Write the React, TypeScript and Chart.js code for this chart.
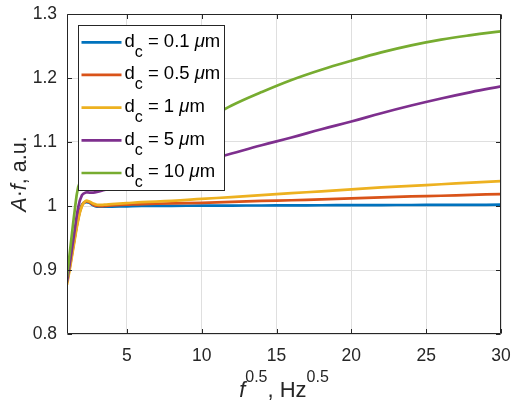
import { useEffect, useRef } from "react";
import { Chart, registerables } from "chart.js";

Chart.register(...registerables);

// sqrt(f), Hz^0.5
const fSqrt = [1, 1.25, 1.5, 1.75, 2, 2.25, 2.5, 2.75, 3, 3.5, 4, 5, 6, 8, 10, 12, 14, 16, 18, 20, 22, 24, 26, 28, 30];

// A·f, a.u. for each particle size
const dc01 = [0.882, 0.916, 0.95, 0.982, 1.002, 1.006, 1.005, 1.001, 0.999, 0.999, 0.999, 0.9995, 1.0, 1.0003, 1.0005, 1.0007, 1.0008, 1.001, 1.0012, 1.0013, 1.0015, 1.0016, 1.0017, 1.0018, 1.002];
const dc05 = [0.88, 0.913, 0.948, 0.98, 1.001, 1.007, 1.006, 1.002, 1.0, 1.0, 1.001, 1.002, 1.003, 1.004, 1.005, 1.0065, 1.008, 1.009, 1.0105, 1.012, 1.0135, 1.015, 1.016, 1.0175, 1.0185];
const dc1 = [0.877, 0.91, 0.945, 0.978, 1.0, 1.008, 1.007, 1.004, 1.002, 1.002, 1.003, 1.0045, 1.006, 1.008, 1.011, 1.014, 1.017, 1.02, 1.023, 1.026, 1.029, 1.0315, 1.034, 1.0365, 1.039];
const dc5 = [0.882, 0.92, 0.96, 0.998, 1.017, 1.021, 1.021, 1.021, 1.022, 1.025, 1.028, 1.035, 1.042, 1.056, 1.069, 1.082, 1.095, 1.107, 1.12, 1.132, 1.145, 1.157, 1.168, 1.178, 1.187];
const dc10 = [0.889, 0.94, 0.99, 1.03, 1.042, 1.046, 1.048, 1.05, 1.052, 1.057, 1.062, 1.073, 1.084, 1.107, 1.131, 1.157, 1.178, 1.197, 1.213, 1.227, 1.24, 1.251, 1.26, 1.267, 1.273];

const seriesValues = [dc01, dc05, dc1, dc5, dc10];
const seriesLabels = ["0.1", "0.5", "1", "5", "10"];
const seriesColors = ["#0072BD", "#D95319", "#EDB120", "#7E2F8E", "#77AC30"];

const xTicks = [5, 10, 15, 20, 25, 30];
const yTicks = [0.8, 0.9, 1, 1.1, 1.2, 1.3];
const yTickLabels = ["0.8", "0.9", "1", "1.1", "1.2", "1.3"];

const FONT = '"Liberation Sans", Arial, Helvetica, sans-serif';
const AXIS = "#262626";

const decor = {
  id: "decor",
  afterDraw(chart: any) {
    const ctx: CanvasRenderingContext2D = chart.ctx;
    const { left, right, top, bottom } = chart.chartArea;
    const xs = chart.scales.x;
    const ys = chart.scales.y;
    ctx.save();
    // box
    const L = Math.round(left) + 0.5, R = Math.round(right) - 0.5;
    const T = Math.round(top) + 0.5, B = Math.round(bottom) - 0.5;
    ctx.strokeStyle = AXIS;
    ctx.lineWidth = 1;
    ctx.beginPath();
    ctx.rect(L, T, R - L, B - T);
    ctx.stroke();
    // inner ticks
    const tl = 4.5;
    ctx.beginPath();
    for (const v of xTicks) {
      const px = Math.round(xs.getPixelForValue(v)) + 0.5;
      ctx.moveTo(px, B); ctx.lineTo(px, B - tl);
      ctx.moveTo(px, T); ctx.lineTo(px, T + tl);
    }
    for (const v of yTicks) {
      const py = Math.round(ys.getPixelForValue(v)) + 0.5;
      ctx.moveTo(L, py); ctx.lineTo(L + tl, py);
      ctx.moveTo(R, py); ctx.lineTo(R - tl, py);
    }
    ctx.stroke();

    // legend
    const lx = 78.5, ly = 25.5, lw = 146, lh = 165;
    ctx.fillStyle = "#ffffff";
    ctx.fillRect(lx, ly, lw, lh);
    ctx.strokeStyle = AXIS;
    ctx.lineWidth = 1;
    ctx.strokeRect(lx, ly, lw, lh);
    const main = `18.5px ${FONT}`;
    const sub = `16px ${FONT}`;
    const ital = `italic 18.5px ${FONT}`;
    ctx.textBaseline = "alphabetic";
    ctx.textAlign = "left";
    for (let i = 0; i < seriesLabels.length; i++) {
      const cy = 42.3 + i * 32.67;
      ctx.strokeStyle = seriesColors[i];
      ctx.lineWidth = 2.7;
      ctx.beginPath();
      ctx.moveTo(81.5, cy);
      ctx.lineTo(121.5, cy);
      ctx.stroke();
      const base = cy + 4.4;
      ctx.fillStyle = "#000000";
      let x = 124.5;
      ctx.font = main;
      ctx.fillText("d", x, base);
      x += ctx.measureText("d").width;
      ctx.font = sub;
      ctx.fillText("c", x, base + 10);
      x += ctx.measureText("c").width;
      ctx.font = main;
      const t = " = " + seriesLabels[i] + " ";
      ctx.fillText(t, x, base);
      x += ctx.measureText(t).width;
      ctx.font = ital;
      ctx.fillText("\u03bc", x, base);
      x += ctx.measureText("\u03bc").width;
      ctx.font = main;
      ctx.fillText("m", x, base);
    }

    // x title: f^0.5, Hz^0.5
    ctx.fillStyle = AXIS;
    const tMain = `22px ${FONT}`;
    const tItal = `italic 22px ${FONT}`;
    const tSup = `16px ${FONT}`;
    const parts: [string, string, number][] = [
      ["f", tItal, 0],
      ["0.5", tSup, -15],
      [", Hz", tMain, 0],
      ["0.5", tSup, -15],
    ];
    let total = 0;
    for (const [s, f] of parts) { ctx.font = f; total += ctx.measureText(s).width; }
    let x0 = (left + right) / 2 - total / 2;
    const xb = 396.5;
    for (const [s, f, dy] of parts) {
      ctx.font = f;
      ctx.fillText(s, x0, xb + dy);
      x0 += ctx.measureText(s).width;
    }

    // y title: A·f, a.u.
    const yMain = `21.5px ${FONT}`;
    const yItal = `italic 21.5px ${FONT}`;
    const yparts: [string, string][] = [
      ["A", yItal],
      ["\u00b7", yMain],
      ["f", yItal],
      [", a.u.", yMain],
    ];
    let ytot = 0;
    for (const [s, f] of yparts) { ctx.font = f; ytot += ctx.measureText(s).width; }
    ctx.translate(25.5, 174);
    ctx.rotate(-Math.PI / 2);
    let y0 = -ytot / 2;
    for (const [s, f] of yparts) {
      ctx.font = f;
      ctx.fillText(s, y0, 0);
      y0 += ctx.measureText(s).width;
    }
    ctx.restore();
  },
};

export default function App() {
  const ref = useRef<HTMLCanvasElement | null>(null);
  useEffect(() => {
    if (!ref.current) return;
    const datasets = seriesValues
      .map((vals, i) => ({
        label: `d_c = ${seriesLabels[i]} μm`,
        data: fSqrt.map((x, j) => ({ x, y: vals[j] })),
        borderColor: seriesColors[i],
        backgroundColor: seriesColors[i],
        borderWidth: 2.7,
        pointRadius: 0,
        fill: false,
        tension: 0.4,
      }))
      .reverse();
    const chart = new Chart(ref.current, {
      type: "line",
      data: { datasets },
      options: {
        animation: false,
        responsive: false,
        devicePixelRatio: 1,
        layout: { padding: { top: 14, right: 17, left: 0, bottom: 0 } },
        plugins: { legend: { display: false }, tooltip: { enabled: false } },
        scales: {
          x: {
            type: "linear",
            min: 1,
            max: 30,
            afterBuildTicks: (s: any) => { s.ticks = xTicks.map((v) => ({ value: v })); },
            afterFit: (s: any) => {
              s.height = 71;
              s.paddingLeft = 0; s.paddingRight = 0; s.paddingTop = 0; s.paddingBottom = 0;
            },
            grid: { color: "#dfdfdf", lineWidth: 1, drawTicks: false },
            border: { display: false },
            ticks: { color: AXIS, font: { family: FONT, size: 17.5 }, padding: 12, maxRotation: 0 },
          },
          y: {
            type: "linear",
            min: 0.8,
            max: 1.3,
            afterBuildTicks: (s: any) => { s.ticks = yTicks.map((v) => ({ value: v })); },
            afterFit: (s: any) => {
              s.width = 67;
              s.paddingLeft = 0; s.paddingRight = 0; s.paddingTop = 0; s.paddingBottom = 0;
            },
            grid: { color: "#dfdfdf", lineWidth: 1, drawTicks: false },
            border: { display: false },
            ticks: {
              color: AXIS,
              font: { family: FONT, size: 17.5 },
              padding: 10,
              callback: (v: any) => {
                const k = yTicks.findIndex((t) => Math.abs(t - Number(v)) < 1e-9);
                return k >= 0 ? yTickLabels[k] : "";
              },
            },
          },
        },
      },
      plugins: [decor],
    });
    return () => chart.destroy();
  }, []);
  return (
    <div style={{ position: "absolute", left: 0, top: 0, width: 518, height: 405, background: "#fff" }}>
      <canvas ref={ref} width={518} height={405} style={{ display: "block" }} />
    </div>
  );
}
